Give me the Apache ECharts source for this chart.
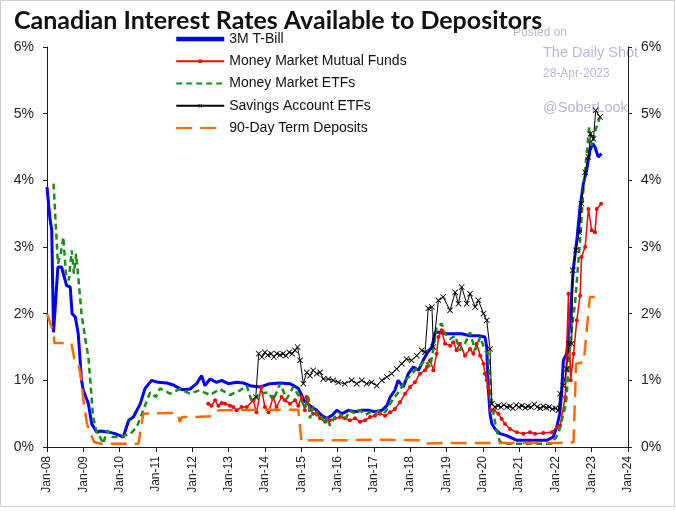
<!DOCTYPE html>
<html>
<head>
<meta charset="utf-8">
<script src="https://cdn.jsdelivr.net/npm/echarts@6/dist/echarts.min.js"></script>
<style>
html,body{margin:0;padding:0;background:#fff;}
#chart{width:676px;height:513px;}
</style>
</head>
<body>
<div id="chart"></div>
<script>
// Series names
const seriesNames = ['3M T-Bill', 'Money Market Mutual Funds', 'Money Market ETFs', 'Savings Account ETFs', '90-Day Term Deposits'];

// x axis tick range (years, each tick = January)
const yearMin = 2008, yearMax = 2024;
// y axis ticks (%)
const rateMin = 0, rateMax = 6;

// [decimal year, rate %]
const tbill = [
 [2008.0,3.9],[2008.08,3.43],[2008.13,3.25],[2008.18,1.72],[2008.3,2.7],[2008.4,2.7],[2008.54,2.42],[2008.64,2.4],
 [2008.69,2.0],[2008.78,1.95],[2008.86,1.7],[2008.95,1.0],[2009.0,0.85],[2009.14,0.65],[2009.23,0.35],[2009.37,0.22],
 [2009.46,0.24],[2009.73,0.22],[2009.87,0.2],[2010.1,0.15],[2010.25,0.4],[2010.38,0.45],[2010.57,0.65],[2010.7,0.88],
 [2010.88,1.0],[2011.06,0.97],[2011.3,0.96],[2011.48,0.93],[2011.71,0.86],[2011.94,0.87],[2012.12,0.95],[2012.26,1.07],
 [2012.35,0.92],[2012.49,1.02],[2012.67,0.97],[2012.81,1.0],[2012.99,0.95],[2013.22,0.97],[2013.41,0.96],[2013.59,0.92],
 [2013.87,0.9],[2014.14,0.95],[2014.42,0.96],[2014.69,0.95],[2014.92,0.88],[2015.01,0.78],[2015.1,0.68],[2015.24,0.62],
 [2015.43,0.55],[2015.57,0.47],[2015.7,0.43],[2015.84,0.47],[2015.98,0.55],[2016.12,0.5],[2016.3,0.55],[2016.48,0.53],
 [2016.67,0.55],[2016.85,0.55],[2017.03,0.53],[2017.22,0.55],[2017.36,0.62],[2017.45,0.75],[2017.58,0.85],[2017.67,1.0],
 [2017.81,0.9],[2017.95,1.1],[2018.09,1.2],[2018.23,1.15],[2018.36,1.3],[2018.46,1.4],[2018.6,1.5],[2018.69,1.72],
 [2018.78,1.72],[2018.96,1.7],[2019.19,1.7],[2019.42,1.7],[2019.65,1.67],[2019.88,1.67],[2020.06,1.65],[2020.11,1.5],
 [2020.15,0.9],[2020.2,0.5],[2020.25,0.35],[2020.34,0.27],[2020.47,0.2],[2020.66,0.17],[2020.94,0.1],[2021.21,0.1],
 [2021.49,0.1],[2021.76,0.1],[2021.94,0.15],[2022.04,0.3],[2022.12,0.5],[2022.17,0.8],[2022.22,1.3],[2022.31,1.4],
 [2022.4,1.85],[2022.49,2.65],[2022.6,3.15],[2022.68,3.6],[2022.77,3.95],[2022.86,4.15],[2022.95,4.45],[2023.03,4.55],
 [2023.09,4.5],[2023.18,4.35],[2023.27,4.4]
];

const mmFunds = [
 [2012.44,0.65],[2012.53,0.62],[2012.63,0.7],[2012.72,0.62],[2012.81,0.66],[2012.9,0.65],[2013.04,0.62],[2013.13,0.6],
 [2013.22,0.55],[2013.36,0.6],[2013.5,0.6],[2013.68,0.7],[2013.77,0.52],[2013.9,0.9],[2014.0,0.6],[2014.1,0.52],
 [2014.23,0.75],[2014.32,0.6],[2014.46,0.75],[2014.55,0.7],[2014.69,0.65],[2014.83,0.7],[2014.92,0.62],[2015.01,0.75],
 [2015.1,0.55],[2015.15,0.75],[2015.24,0.57],[2015.33,0.5],[2015.43,0.52],[2015.52,0.43],[2015.66,0.38],[2015.79,0.4],
 [2015.93,0.43],[2016.07,0.45],[2016.2,0.43],[2016.34,0.4],[2016.48,0.43],[2016.62,0.38],[2016.76,0.4],[2016.9,0.45],
 [2017.03,0.47],[2017.17,0.5],[2017.31,0.47],[2017.45,0.52],[2017.58,0.57],[2017.72,0.67],[2017.86,0.8],[2018.0,0.9],
 [2018.13,0.97],[2018.27,1.1],[2018.41,1.15],[2018.46,1.2],[2018.55,1.3],[2018.64,1.15],[2018.73,1.4],[2018.78,1.65],
 [2018.87,1.75],[2018.96,1.55],[2019.1,1.52],[2019.19,1.57],[2019.28,1.45],[2019.37,1.55],[2019.51,1.37],[2019.65,1.47],
 [2019.74,1.4],[2019.83,1.55],[2019.93,1.37],[2020.02,1.25],[2020.06,1.1],[2020.11,1.0],[2020.15,0.9],[2020.22,0.55],
 [2020.31,0.55],[2020.43,0.5],[2020.52,0.42],[2020.61,0.35],[2020.75,0.27],[2020.94,0.22],[2021.12,0.2],[2021.3,0.22],
 [2021.44,0.2],[2021.67,0.21],[2021.9,0.22],[2022.04,0.3],[2022.13,0.32],[2022.27,0.75],[2022.36,2.3],[2022.42,1.0],
 [2022.5,1.4],[2022.59,1.9],[2022.68,2.27],[2022.72,2.85],[2022.82,3.0],[2022.91,3.57],[2023.0,3.25],[2023.09,3.22],
 [2023.14,3.57],[2023.26,3.65]
];

const mmEtfs = [
 [2008.18,3.95],[2008.3,2.75],[2008.38,2.9],[2008.45,3.15],[2008.52,2.6],[2008.6,2.5],[2008.68,2.95],[2008.74,2.6],
 [2008.8,2.9],[2008.87,2.5],[2008.95,2.0],[2009.06,1.6],[2009.14,1.35],[2009.27,0.45],[2009.38,0.2],[2009.46,0.15],
 [2009.55,0.05],[2009.65,0.25],[2009.8,0.15],[2010.0,0.15],[2010.3,0.2],[2010.47,0.3],[2010.65,0.55],[2010.84,0.82],
 [2011.0,0.75],[2011.11,0.88],[2011.39,0.8],[2011.66,0.87],[2011.94,0.8],[2012.2,0.85],[2012.49,0.78],[2012.76,0.87],
 [2013.04,0.78],[2013.32,0.85],[2013.5,0.92],[2013.64,0.68],[2013.87,0.8],[2014.1,0.82],[2014.23,0.7],[2014.42,0.95],
 [2014.6,0.72],[2014.78,0.9],[2014.92,0.78],[2015.01,0.7],[2015.1,0.58],[2015.2,0.75],[2015.24,0.43],[2015.33,0.6],
 [2015.43,0.47],[2015.52,0.5],[2015.66,0.35],[2015.72,0.45],[2015.79,0.32],[2015.93,0.45],[2016.07,0.5],[2016.2,0.4],
 [2016.34,0.55],[2016.48,0.5],[2016.62,0.55],[2016.76,0.48],[2016.9,0.52],[2017.03,0.5],[2017.17,0.55],[2017.31,0.52],
 [2017.45,0.65],[2017.58,0.75],[2017.72,0.85],[2017.86,1.0],[2018.0,1.07],[2018.13,1.15],[2018.27,1.22],[2018.41,1.3],
 [2018.55,1.2],[2018.64,1.47],[2018.73,1.8],[2018.87,1.85],[2018.96,1.7],[2019.1,1.62],[2019.24,1.67],[2019.37,1.45],
 [2019.51,1.55],[2019.65,1.72],[2019.79,1.45],[2019.93,1.65],[2020.06,1.45],[2020.15,1.4],[2020.25,0.65],[2020.38,0.25],
 [2020.47,0.08],[2020.7,0.05],[2021.0,0.05],[2021.5,0.05],[2021.9,0.05],[2022.08,0.2],[2022.13,0.3],[2022.27,0.6],
 [2022.31,0.75],[2022.4,1.55],[2022.54,2.15],[2022.68,3.1],[2022.77,3.85],[2022.88,4.5],[2022.93,4.8],[2023.0,4.52],
 [2023.1,4.75],[2023.23,4.95]
];

const savingsEtfs = [
 [2013.75,0.75],[2013.83,1.4],[2013.92,1.35],[2014.0,1.42],[2014.08,1.38],[2014.17,1.4],[2014.25,1.35],[2014.33,1.4],
 [2014.42,1.38],[2014.5,1.4],[2014.58,1.37],[2014.67,1.42],[2014.75,1.4],[2014.83,1.45],[2014.9,1.5],[2014.97,1.3],
 [2015.06,0.95],[2015.15,1.12],[2015.24,1.07],[2015.33,1.15],[2015.43,1.1],[2015.52,1.12],[2015.61,1.02],[2015.75,1.02],
 [2015.88,1.0],[2016.02,0.97],[2016.2,0.95],[2016.39,1.0],[2016.53,0.95],[2016.67,1.0],[2016.8,0.95],[2016.94,0.97],
 [2017.08,0.92],[2017.22,1.0],[2017.36,1.05],[2017.49,1.1],[2017.63,1.17],[2017.77,1.25],[2017.9,1.32],[2018.04,1.3],
 [2018.18,1.37],[2018.32,1.45],[2018.41,1.42],[2018.5,2.08],[2018.6,2.1],[2018.64,1.5],[2018.78,2.2],[2018.91,2.25],
 [2019.1,2.05],[2019.24,2.32],[2019.33,2.15],[2019.42,2.4],[2019.56,2.15],[2019.65,2.3],[2019.79,2.1],[2019.88,2.2],
 [2020.02,2.0],[2020.11,1.9],[2020.2,1.47],[2020.25,0.65],[2020.33,0.6],[2020.42,0.62],[2020.5,0.6],[2020.58,0.63],
 [2020.67,0.6],[2020.75,0.61],[2020.83,0.58],[2020.92,0.63],[2021.0,0.6],[2021.08,0.62],[2021.17,0.59],[2021.25,0.61],
 [2021.33,0.6],[2021.42,0.64],[2021.5,0.6],[2021.58,0.58],[2021.67,0.61],[2021.75,0.59],[2021.83,0.6],[2021.92,0.57],
 [2022.0,0.58],[2022.08,0.55],[2022.13,0.8],[2022.22,0.92],[2022.31,1.17],[2022.38,1.55],[2022.45,1.55],[2022.48,2.65],
 [2022.57,2.95],[2022.66,3.22],[2022.72,3.65],[2022.82,4.12],[2022.91,4.35],[2022.97,4.7],[2023.05,4.62],[2023.11,5.05],
 [2023.23,4.95]
];

const termDeposits = [
 [2008.0,2.0],[2008.18,1.72],[2008.2,1.56],[2008.67,1.56],[2008.75,1.33],[2008.85,1.3],[2008.95,1.0],[2009.0,0.7],
 [2009.1,0.35],[2009.2,0.2],[2009.3,0.07],[2009.5,0.05],[2010.0,0.05],[2010.52,0.05],[2010.65,0.5],[2011.5,0.51],
 [2011.6,0.5],[2011.66,0.375],[2011.72,0.45],[2012.0,0.45],[2012.55,0.46],[2012.72,0.55],[2013.0,0.55],[2014.0,0.56],
 [2014.92,0.56],[2015.01,0.08],[2015.1,0.1],[2016.0,0.1],[2017.0,0.11],[2018.27,0.1],[2018.4,0.05],[2019.0,0.06],
 [2020.0,0.06],[2021.0,0.06],[2022.0,0.06],[2022.5,0.07],[2022.57,1.25],[2022.78,1.27],[2022.95,2.25],[2023.09,2.25]
];

const watermark = ['Posted on', 'The Daily Shot', '28-Apr-2023', '@SoberLook'];

const chart = echarts.init(document.getElementById('chart'), null, {renderer: 'canvas'});
const axisColor = '#1a1a1a';
const labelFont = 'Liberation Sans, Arial, sans-serif';
const crossPath = 'path://M0,1L1,0L5,4L9,0L10,1L6,5L10,9L9,10L5,6L1,10L0,9L4,5Z';
const hidden = {color: 'rgba(0,0,0,0)', opacity: 0, borderWidth: 0};

function yAxisCfg(pos) {
  return {
    type: 'value', position: pos, min: rateMin, max: rateMax, interval: 1,
    axisLine: {show: true, lineStyle: {color: axisColor, width: 1}},
    axisTick: {show: true, inside: false, length: 4, lineStyle: {color: axisColor}},
    splitLine: {show: false},
    axisLabel: {formatter: '{value}%', color: '#222', fontSize: 14, fontFamily: labelFont, margin: 13}
  };
}

chart.setOption({
  animation: false,
  backgroundColor: '#fff',
  title: {
    text: 'Canadian Interest Rates Available to Depositors',
    left: 9, top: 3,
    textStyle: {fontFamily: 'Lato, sans-serif', fontWeight: 'bold', fontSize: 25, color: '#111'}
  },
  legend: {
    orient: 'vertical', left: 174, top: 32, padding: 0, itemWidth: 48, itemHeight: 5, itemGap: 8.25,
    textStyle: {fontFamily: labelFont, fontSize: 14, color: '#111'},
    data: [
      {name: seriesNames[0], itemStyle: hidden, lineStyle: {width: 4.5}},
      {name: seriesNames[1]},
      {name: seriesNames[2], itemStyle: hidden},
      {name: seriesNames[3]},
      {name: seriesNames[4], itemStyle: hidden}
    ]
  },
  grid: {left: 47, right: 48, top: 47, bottom: 66},
  xAxis: {
    type: 'value', min: yearMin, max: yearMax, interval: 1,
    axisLine: {show: true, onZero: false, lineStyle: {color: axisColor, width: 1}},
    axisTick: {show: true, length: 5, lineStyle: {color: axisColor}},
    splitLine: {show: false},
    axisLabel: {
      rotate: 90, margin: 9, color: '#222', fontSize: 12, fontFamily: labelFont,
      formatter: v => 'Jan-' + String(Math.round(v)).slice(2)
    }
  },
  yAxis: [yAxisCfg('left'), yAxisCfg('right')],
  graphic: [
    {type: 'rect', shape: {x: 0.5, y: 0.5, width: 674, height: 506}, style: {fill: 'none', stroke: '#d0d0d0', lineWidth: 1}, silent: true},
    {type: 'text', left: 513, top: 27, style: {text: watermark[0], fill: '#b6b6d8', font: '12px "Liberation Sans", Arial'}},
    {type: 'text', left: 543, top: 45, style: {text: watermark[1], fill: '#b6b6d8', font: '14.5px "Liberation Sans", Arial'}},
    {type: 'text', left: 543, top: 68, style: {text: watermark[2], fill: '#b6b6d8', font: '12px "Liberation Sans", Arial'}},
    {type: 'text', left: 543, top: 100, style: {text: watermark[3], fill: '#b6b6d8', font: '14.5px "Liberation Sans", Arial'}}
  ],
  series: [
    {name: seriesNames[0], type: 'line', data: tbill, showSymbol: false, symbol: 'none',
      lineStyle: {color: '#0000ff', width: 3}, itemStyle: {color: '#0000ff'}, z: 2},
    {name: seriesNames[1], type: 'line', data: mmFunds, symbol: 'circle', symbolSize: 4, showSymbol: true,
      lineStyle: {color: '#ff0000', width: 1.5}, itemStyle: {color: '#ff0000'}, z: 3},
    {name: seriesNames[2], type: 'line', data: mmEtfs, symbol: 'none',
      lineStyle: {color: '#1a8c1a', width: 2.5, type: [6, 4]}, itemStyle: {color: '#1a8c1a'}, z: 4},
    {name: seriesNames[3], type: 'line', data: savingsEtfs, symbol: crossPath, symbolSize: 6, showSymbol: true,
      lineStyle: {color: '#000', width: 1}, itemStyle: {color: '#000'}, z: 5},
    {name: seriesNames[4], type: 'line', data: termDeposits, symbol: 'none',
      lineStyle: {color: '#ff6a00', width: 2.5, type: [16, 8]}, itemStyle: {color: '#ff6a00'}, z: 6}
  ]
});
</script>
</body>
</html>
